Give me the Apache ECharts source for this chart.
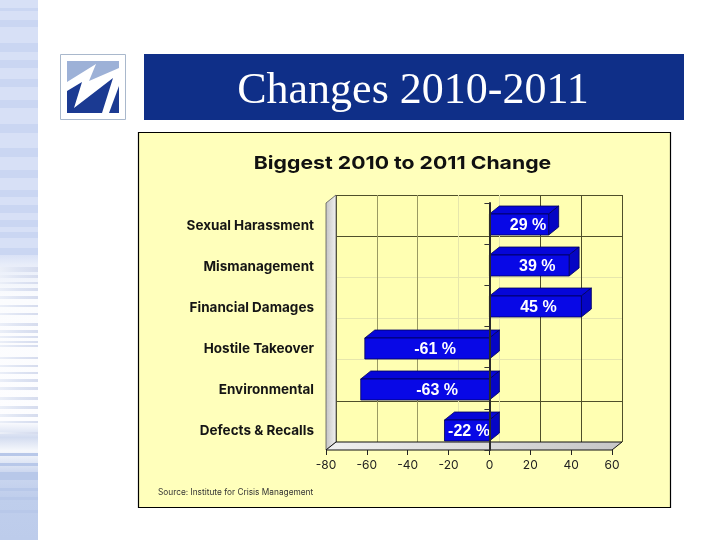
<!DOCTYPE html>
<html>
<head>
<meta charset="utf-8">
<style>html,body{margin:0;padding:0;background:#fff}#c{width:720px;height:540px}</style>
<script src="https://cdn.jsdelivr.net/npm/echarts@6/dist/echarts.min.js"></script>
</head>
<body>
<div id="c"></div>
<script>
const categories = ['Sexual Harassment','Mismanagement','Financial Damages','Hostile Takeover','Environmental','Defects & Recalls'];
const changes = [29, 39, 45, -61, -63, -22];
const axisMin = -80, axisMax = 60, axisStep = 20;
const pageTitle = 'Changes 2010-2011';
const chartTitle = 'Biggest 2010 to 2011 Change';
const sourceNote = 'Source: Institute for Crisis Management';

const FONT = 'Inter, "Liberation Sans", Arial, sans-serif';
const DX = 10, DY = 8, BAR_H = 21;
const labelNudge = [9, 8, 3, 8, 12, 2];

const chart = echarts.init(document.getElementById('c'), null, {renderer:'canvas'});

const strip = [];
strip.push({type:'rect', z:-10, shape:{x:0,y:0,width:38,height:540},
  style:{fill:new echarts.graphic.LinearGradient(0,0,0,1,[
    {offset:0,color:'#D7E0F6'},{offset:0.47,color:'#D7E0F6'},{offset:0.49,color:'#E8EDF9'},
    {offset:0.55,color:'#FBFCFE'},{offset:0.78,color:'#FDFDFF'},{offset:0.81,color:'#D3DCF0'},
    {offset:0.835,color:'#F6F8FC'},{offset:0.875,color:'#CCD7EF'},{offset:0.92,color:'#BFCEEC'},{offset:1,color:'#BDCCEB'}])}});
[[8,3],[20,7],[43,9],[60,8],[79,8],[100,8],[124,9],[148,9],[170,8],[190,7],[205,8],[220,7],[232,6],[248,7]].forEach(b=>{
  strip.push({type:'rect', z:-9, shape:{x:0,y:b[0],width:38,height:b[1]}, style:{fill:'#CAD6F2'}});
});
[[267,5],[275,3],[282,2],[288,3],[296,3],[305,2],[313,2],[323,3],[330,3],[336,2],[341,2],[345,2],[357,2],[365,2],[372,2],[379,3],[387,3],[397,3],[406,3],[414,3],[421,2],[432,2]].forEach(b=>{
  strip.push({type:'rect', z:-9, shape:{x:0,y:b[0],width:38,height:b[1]},
    style:{fill:new echarts.graphic.LinearGradient(0,0,1,0,[{offset:0,color:'#EBEFF8'},{offset:0.5,color:'#DEE4F3'},{offset:1,color:'#D6DCEE'}])}});
});
[[453,3],[463,3],[472,8],[488,3],[497,3],[510,3]].forEach(b=>{
  strip.push({type:'rect', z:-9, shape:{x:0,y:b[0],width:38,height:b[1]}, style:{fill:'#B8C8E9'}});
});

const logo = [
  {type:'rect', z:-8, shape:{x:60.5,y:54.5,width:65,height:65}, style:{fill:'#fff',stroke:'#A9B8CC',lineWidth:1}},
  {type:'polygon', z:-7, shape:{points:[[67,61],[119,61],[119,68],[89,81],[96,64],[67,82]]}, style:{fill:'#9DB1D7'}},
  {type:'polygon', z:-7, shape:{points:[[67,91],[82,82],[74,108],[113,78],[102,113],[67,113]]}, style:{fill:'#1B3A92'}},
  {type:'polygon', z:-7, shape:{points:[[119,86],[109,113],[119,113]]}, style:{fill:'#1B3A92'}}
];

const backdrop = [
  {type:'rect', z:-6, shape:{x:144,y:54,width:540,height:66}, style:{fill:'#0F2F88'}},
  {type:'rect', z:-6, shape:{x:138.5,y:132.5,width:532,height:375}, style:{fill:'#FFFFBB',stroke:'#000',lineWidth:1.2}},
  {type:'text', z:-5, x:158, y:493, style:{text:sourceNote, fill:'#333', font:'8.3px '+FONT, textAlign:'left', textVerticalAlign:'middle'}},
  {type:'text', z:-5, x:402.5, y:164, scaleX:1.18, style:{text:chartTitle, fill:'#111', font:'bold 18px '+FONT, textAlign:'center', textVerticalAlign:'middle'}}
];

function renderFrame(params, api){
  const cs = params.coordSys;
  const l = cs.x, t = cs.y, r = cs.x+cs.width, b = cs.y+cs.height;
  return {type:'group', children:[
    {type:'polygon', shape:{points:[[l,t],[l+DX,t-DY],[l+DX,b-DY],[l,b]]},
      style:{fill:new echarts.graphic.LinearGradient(0,0,1,0,[{offset:0,color:'#C4C4C4'},{offset:1,color:'#F2F2F2'}]),stroke:'#555',lineWidth:0.8}},
    {type:'polygon', shape:{points:[[l,b],[l+DX,b-DY],[r+DX,b-DY],[r,b]]},
      style:{fill:new echarts.graphic.LinearGradient(0,0,1,0,[{offset:0,color:'#F0F0F0'},{offset:1,color:'#C6C6C6'}]),stroke:'#111',lineWidth:1}}
  ]};
}

function renderBar(params, api){
  const v = api.value(0), i = api.value(1);
  const z = api.coord([0,i]), e = api.coord([v,i]);
  const L = Math.min(z[0],e[0]), R = Math.max(z[0],e[0]);
  const T = Math.round(z[1]-BAR_H/2)+1, B = T+BAR_H;
  const line = {stroke:'#00005A', lineWidth:0.8};
  return {type:'group', children:[
    {type:'polygon', shape:{points:[[L,T],[L+DX,T-DY],[R+DX,T-DY],[R,T]]}, style:Object.assign({fill:'#0606D8'},line)},
    {type:'polygon', shape:{points:[[R,T],[R+DX,T-DY],[R+DX,B-DY],[R,B]]}, style:Object.assign({fill:'#0505C4'},line)},
    {type:'rect', shape:{x:L,y:T,width:R-L,height:BAR_H}, style:Object.assign({fill:'#0808E6'},line)},
    {type:'text', x:(L+R)/2+labelNudge[i], y:T+BAR_H/2+1, z2:5,
      style:{text:v+' %', fill:'#fff', font:'bold 16px "Liberation Sans", Arial, sans-serif', textAlign:'center', textVerticalAlign:'middle'}}
  ]};
}

const dark = '#4F4F2A', mid = '#9A9A62', faint = '#E6E6AC';

chart.setOption({
  animation:false,
  backgroundColor:'#fff',
  title:[
    {text:pageTitle, left:408, top:64, textAlign:'center',
      textStyle:{color:'#fff', fontFamily:'"Liberation Serif","Times New Roman",serif', fontSize:44, fontWeight:'normal'}}
  ],
  graphic:{elements:[...strip, ...logo, ...backdrop]},
  grid:[
    {left:336, right:98, top:195, bottom:98, show:true, backgroundColor:'#FFFFB2', borderWidth:0, containLabel:false},
    {left:326, right:108, top:203, bottom:90, show:false, containLabel:false}
  ],
  xAxis:[
    {gridIndex:0, type:'value', min:axisMin, max:axisMax, interval:axisStep, z:0,
      axisLine:{show:false}, axisTick:{show:false}, axisLabel:{show:false},
      splitLine:{show:true, lineStyle:{width:1, color:[dark,mid,mid,faint,faint,dark,dark,dark]}}},
    {gridIndex:1, type:'value', min:axisMin, max:axisMax, interval:axisStep, position:'bottom', z:1,
      axisLine:{show:false, onZero:false}, axisTick:{show:true, length:5, lineStyle:{color:'#222'}},
      axisLabel:{color:'#222', fontFamily:FONT, fontSize:12, margin:9, formatter:v=>String(v)}, splitLine:{show:false}}
  ],
  yAxis:[
    {gridIndex:0, type:'category', data:categories, inverse:true, z:0,
      axisLine:{show:false}, axisTick:{show:false}, axisLabel:{show:false},
      splitLine:{show:true, lineStyle:{width:1, color:[dark,dark,faint,faint,faint,dark,'#111']}}},
    {gridIndex:1, type:'category', data:categories, inverse:true, position:'left', z:1,
      axisLine:{show:false, onZero:false}, axisTick:{show:false},
      axisLabel:{color:'#151515', fontFamily:FONT, fontSize:13.5, fontWeight:'bold', margin:12, verticalAlign:'top', lineHeight:4}},
    {gridIndex:1, type:'category', data:categories, inverse:true, position:'left', z:6,
      axisLine:{show:true, onZero:true, lineStyle:{color:'#2A2A2A', width:2}},
      axisTick:{show:true, length:5, lineStyle:{color:'#333'}}, axisLabel:{show:false}}
  ],
  series:[
    {type:'custom', coordinateSystem:'cartesian2d', xAxisIndex:1, yAxisIndex:1, z:1, silent:true, clip:false,
      renderItem:renderFrame, data:[[0,0]], encode:{x:0,y:1}},
    {type:'custom', name:'Change', coordinateSystem:'cartesian2d', xAxisIndex:1, yAxisIndex:1, z:3, silent:true, clip:false,
      renderItem:renderBar, data:changes.map((v,i)=>[v,i]), encode:{x:0,y:1}}
  ]
});
</script>
</body>
</html>
